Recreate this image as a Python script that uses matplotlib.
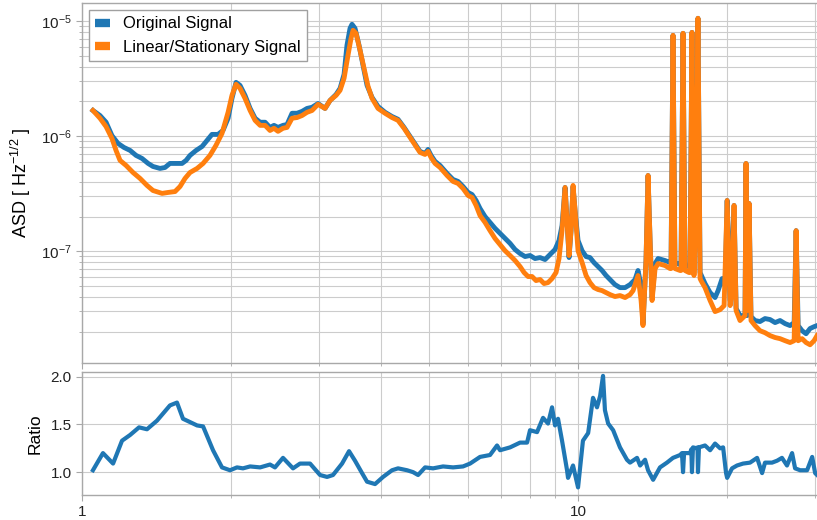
import numpy as np
import matplotlib.pyplot as plt
from matplotlib import ticker

plt.rcParams['font.family'] = ['Liberation Sans', 'DejaVu Sans']
plt.rcParams['mathtext.fontset'] = 'custom'
plt.rcParams['mathtext.rm'] = 'Liberation Sans'
plt.rcParams['mathtext.it'] = 'Liberation Sans:italic'

# ASD of the original strain signal
orig_freq = [1.052, 1.087, 1.118, 1.149, 1.182, 1.215, 1.250, 1.285, 1.321, 1.359,
             1.390, 1.436, 1.470, 1.504, 1.540, 1.591, 1.621, 1.651, 1.698, 1.746,
             1.787, 1.828, 1.880, 1.924, 1.970, 2.006, 2.044, 2.082, 2.131, 2.182,
             2.233, 2.286, 2.339, 2.393, 2.438, 2.484, 2.542, 2.590, 2.651, 2.713,
             2.777, 2.842, 2.909, 2.991, 3.090, 3.162, 3.252, 3.313, 3.375, 3.421,
             3.470, 3.502, 3.551, 3.618, 3.686, 3.755, 3.843, 3.951, 4.082, 4.217,
             4.336, 4.459, 4.585, 4.714, 4.802, 4.915, 4.984, 5.054, 5.149, 5.270,
             5.444, 5.597, 5.729, 5.863, 6.002, 6.114, 6.229, 6.345, 6.494, 6.646,
             6.803, 6.962, 7.126, 7.294, 7.465, 7.640, 7.820, 8.002, 8.190, 8.383,
             8.580, 8.781, 8.987, 9.155, 9.284, 9.415, 9.502, 9.591, 9.680, 9.771,
             9.862, 10.00, 10.19, 10.38, 10.57, 10.77, 10.97, 11.18, 11.39, 11.60,
             11.87, 12.15, 12.44, 12.73, 13.03, 13.21, 13.40, 13.52, 13.71, 13.84,
             13.97, 14.10, 14.30, 14.50, 14.98, 15.33, 15.40, 15.54, 15.68, 16.06,
             16.13, 16.28, 16.43, 16.74, 16.82, 16.97, 17.13, 17.29, 17.45, 17.62,
             18.03, 18.46, 18.89, 19.16, 19.52, 19.79, 19.98, 20.26, 20.63, 20.83,
             21.21, 21.71, 21.81, 21.91, 22.12, 22.32, 22.74, 23.27, 23.82, 24.38,
             24.96, 25.54, 26.15, 26.76, 27.27, 27.52, 27.78, 28.29, 28.82, 29.36,
             29.91, 30.33]
orig_asd = [1.67e-6, 1.51e-6, 1.32e-6, 1.01e-6, 8.64e-7, 7.97e-7, 7.51e-7, 6.80e-7, 6.40e-7, 5.79e-7,
            5.45e-7, 5.24e-7, 5.34e-7, 5.79e-7, 5.79e-7, 5.79e-7, 6.15e-7, 6.80e-7, 7.51e-7, 8.13e-7,
            9.18e-7, 1.035e-6, 1.035e-6, 1.12e-6, 1.43e-6, 2.13e-6, 2.93e-6, 2.76e-6, 2.26e-6, 1.74e-6,
            1.43e-6, 1.32e-6, 1.32e-6, 1.19e-6, 1.24e-6, 1.19e-6, 1.24e-6, 1.26e-6, 1.58e-6, 1.58e-6,
            1.64e-6, 1.74e-6, 1.78e-6, 1.92e-6, 1.74e-6, 2.04e-6, 2.30e-6, 2.60e-6, 3.44e-6, 6.15e-6,
            8.64e-6, 9.36e-6, 8.64e-6, 6.15e-6, 4.12e-6, 2.76e-6, 2.17e-6, 1.81e-6, 1.61e-6, 1.48e-6,
            1.40e-6, 1.19e-6, 9.94e-7, 8.30e-7, 7.36e-7, 7.07e-7, 7.66e-7, 6.80e-7, 6.03e-7, 5.56e-7,
            4.74e-7, 4.20e-7, 4.04e-7, 3.65e-7, 3.24e-7, 3.11e-7, 2.76e-7, 2.35e-7, 2.00e-7, 1.78e-7,
            1.58e-7, 1.43e-7, 1.29e-7, 1.17e-7, 1.035e-7, 9.55e-8, 8.99e-8, 9.18e-8, 8.64e-8, 8.81e-8,
            8.47e-8, 9.36e-8, 1.035e-7, 1.24e-7, 1.67e-7, 3.58e-7, 1.85e-7, 8.81e-8, 1.51e-7, 3.65e-7,
            2.26e-7, 1.24e-7, 1.01e-7, 8.99e-8, 8.81e-8, 7.97e-8, 7.36e-8, 6.80e-8, 6.15e-8, 5.68e-8,
            5.13e-8, 4.83e-8, 4.83e-8, 5.13e-8, 5.68e-8, 6.80e-8, 5.03e-8, 2.35e-8, 8.30e-8, 4.55e-7,
            1.24e-7, 3.96e-8, 7.81e-8, 8.64e-8, 8.30e-8, 7.97e-8, 7.97e-8, 7.51e-6, 7.97e-8, 7.66e-8,
            7.66e-8, 7.82e-6, 7.51e-8, 7.36e-8, 7.36e-8, 7.97e-6, 7.07e-8, 2.00e-7, 1.056e-5, 6.53e-8,
            5.24e-8, 4.37e-8, 3.96e-8, 4.55e-8, 5.79e-8, 5.03e-8, 2.76e-7, 3.73e-8, 2.50e-7, 3.18e-8,
            2.76e-8, 2.76e-8, 5.79e-7, 2.76e-8, 2.60e-7, 2.71e-8, 2.50e-8, 2.45e-8, 2.60e-8, 2.55e-8,
            2.40e-8, 2.50e-8, 2.35e-8, 2.26e-8, 2.40e-8, 1.51e-7, 2.26e-8, 2.04e-8, 1.92e-8, 2.13e-8,
            2.21e-8, 2.26e-8]

# ASD after removing the non-linear / non-stationary part
lin_freq = [1.052, 1.087, 1.118, 1.149, 1.171, 1.193, 1.227, 1.267, 1.309, 1.352,
            1.390, 1.450, 1.491, 1.540, 1.576, 1.613, 1.651, 1.706, 1.754, 1.811,
            1.862, 1.915, 1.970, 2.006, 2.044, 2.082, 2.131, 2.182, 2.233, 2.286,
            2.339, 2.393, 2.438, 2.484, 2.542, 2.590, 2.651, 2.713, 2.777, 2.842,
            2.909, 2.991, 3.090, 3.162, 3.252, 3.313, 3.375, 3.437, 3.486, 3.519,
            3.568, 3.635, 3.703, 3.772, 3.843, 3.951, 4.082, 4.217, 4.336, 4.459,
            4.585, 4.714, 4.802, 4.915, 4.984, 5.054, 5.149, 5.270, 5.444, 5.597,
            5.729, 5.863, 6.002, 6.114, 6.229, 6.345, 6.494, 6.646, 6.803, 6.962,
            7.126, 7.294, 7.465, 7.640, 7.784, 7.930, 8.077, 8.228, 8.383, 8.540,
            8.700, 8.863, 9.029, 9.155, 9.284, 9.415, 9.502, 9.591, 9.680, 9.771,
            9.862, 10.00, 10.19, 10.38, 10.57, 10.77, 10.97, 11.18, 11.39, 11.60,
            11.87, 12.15, 12.44, 12.73, 12.91, 13.21, 13.40, 13.52, 13.71, 13.84,
            13.97, 14.10, 14.30, 14.50, 14.98, 15.33, 15.40, 15.54, 15.68, 16.06,
            16.13, 16.28, 16.43, 16.74, 16.82, 16.97, 17.13, 17.29, 17.45, 17.62,
            17.70, 18.03, 18.46, 18.89, 19.34, 19.70, 19.98, 20.26, 20.44, 20.63,
            20.83, 21.21, 21.71, 21.81, 21.91, 22.12, 22.32, 22.74, 23.27, 23.82,
            24.38, 24.96, 25.54, 26.15, 26.76, 27.27, 27.52, 27.78, 28.29, 28.82,
            29.36, 29.91, 30.33]
lin_asd = [1.67e-6, 1.43e-6, 1.21e-6, 9.55e-7, 7.51e-7, 6.15e-7, 5.56e-7, 4.83e-7, 4.29e-7, 3.73e-7,
           3.37e-7, 3.18e-7, 3.24e-7, 3.30e-7, 3.65e-7, 4.29e-7, 4.83e-7, 5.24e-7, 5.79e-7, 6.80e-7,
           8.30e-7, 1.055e-6, 1.61e-6, 2.26e-6, 2.82e-6, 2.60e-6, 2.13e-6, 1.67e-6, 1.37e-6, 1.24e-6,
           1.24e-6, 1.12e-6, 1.17e-6, 1.10e-6, 1.17e-6, 1.19e-6, 1.43e-6, 1.45e-6, 1.51e-6, 1.61e-6,
           1.67e-6, 1.89e-6, 1.74e-6, 2.04e-6, 2.26e-6, 2.50e-6, 3.18e-6, 5.03e-6, 7.07e-6, 8.30e-6,
           7.82e-6, 5.56e-6, 3.88e-6, 2.71e-6, 2.13e-6, 1.74e-6, 1.58e-6, 1.45e-6, 1.37e-6, 1.17e-6,
           9.74e-7, 8.13e-7, 7.22e-7, 6.93e-7, 7.36e-7, 6.53e-7, 5.79e-7, 5.34e-7, 4.55e-7, 4.04e-7,
           3.88e-7, 3.51e-7, 3.05e-7, 2.93e-7, 2.50e-7, 2.04e-7, 1.78e-7, 1.51e-7, 1.29e-7, 1.14e-7,
           1.01e-7, 9.18e-8, 8.30e-8, 7.36e-8, 6.53e-8, 6.03e-8, 6.03e-8, 5.56e-8, 5.68e-8, 5.24e-8,
           5.34e-8, 5.79e-8, 6.53e-8, 8.64e-8, 1.51e-7, 3.58e-7, 1.85e-7, 9.18e-8, 1.51e-7, 3.73e-7,
           2.26e-7, 1.01e-7, 7.97e-8, 6.15e-8, 5.34e-8, 4.83e-8, 4.65e-8, 4.55e-8, 4.37e-8, 4.20e-8,
           4.04e-8, 4.12e-8, 3.96e-8, 4.20e-8, 4.55e-8, 6.15e-8, 3.73e-8, 2.26e-8, 8.30e-8, 4.55e-7,
           1.24e-7, 3.73e-8, 7.07e-8, 7.81e-8, 7.51e-8, 7.07e-8, 7.07e-8, 7.51e-6, 7.07e-8, 6.80e-8,
           6.80e-8, 7.82e-6, 6.80e-8, 6.53e-8, 6.53e-8, 7.97e-6, 6.15e-8, 2.00e-7, 1.056e-5, 5.79e-8,
           5.56e-8, 4.83e-8, 3.73e-8, 2.99e-8, 3.11e-8, 3.37e-8, 2.76e-7, 3.37e-8, 4.55e-8, 2.50e-7,
           3.05e-8, 2.50e-8, 2.76e-8, 5.79e-7, 3.05e-8, 2.60e-7, 2.50e-8, 2.26e-8, 2.04e-8, 1.96e-8,
           1.85e-8, 1.78e-8, 1.74e-8, 1.67e-8, 1.61e-8, 1.67e-8, 1.51e-7, 1.67e-8, 1.74e-8, 1.61e-8,
           1.54e-8, 1.67e-8, 1.85e-8]

# original / linear ratio
ratio_freq = [1.052, 1.102, 1.155, 1.204, 1.250, 1.303, 1.352, 1.416, 1.504, 1.554,
              1.598, 1.706, 1.754, 1.837, 1.915, 1.988, 2.053, 2.111, 2.182, 2.286,
              2.393, 2.449, 2.542, 2.663, 2.751, 2.882, 3.019, 3.119, 3.206, 3.344,
              3.454, 3.551, 3.669, 3.755, 3.897, 4.045, 4.217, 4.336, 4.522, 4.650,
              4.759, 4.916, 5.102, 5.344, 5.598, 5.863, 6.058, 6.345, 6.646, 6.866,
              6.962, 7.294, 7.640, 7.893, 8.002, 8.267, 8.500, 8.700, 8.863, 8.987,
              9.113, 9.284, 9.502, 9.546, 9.770, 10.00, 10.23, 10.48, 10.72, 10.92,
              11.08, 11.23, 11.33, 11.50, 11.77, 12.15, 12.55, 12.73, 13.15, 13.34,
              13.65, 13.84, 14.17, 14.63, 15.11, 15.54, 16.06, 16.20, 16.28, 16.36,
              16.82, 16.92, 16.97, 17.05, 17.37, 17.41, 17.45, 17.53, 18.03, 18.46,
              18.89, 19.34, 19.61, 19.88, 19.98, 20.44, 20.92, 21.51, 22.22, 22.96,
              23.50, 23.82, 24.61, 25.19, 25.77, 26.38, 27.01, 27.39, 28.04, 28.96,
              29.65, 30.06, 30.34]
ratio = [1.02, 1.20, 1.09, 1.33, 1.39, 1.47, 1.45, 1.54, 1.70, 1.73,
         1.56, 1.49, 1.48, 1.23, 1.05, 1.02, 1.05, 1.04, 1.06, 1.05,
         1.08, 1.05, 1.15, 1.04, 1.09, 1.09, 0.97, 0.95, 0.97, 1.09,
         1.22, 1.12, 0.99, 0.90, 0.875, 0.95, 1.02, 1.04, 1.02, 1.00,
         0.97, 1.05, 1.04, 1.06, 1.05, 1.06, 1.09, 1.16, 1.18, 1.28,
         1.23, 1.26, 1.31, 1.31, 1.44, 1.42, 1.57, 1.51, 1.68, 1.49,
         1.56, 1.33, 1.02, 0.94, 1.07, 0.84, 1.33, 1.41, 1.78, 1.68,
         1.80, 2.01, 1.65, 1.51, 1.44, 1.26, 1.13, 1.10, 1.15, 1.07,
         1.13, 1.02, 0.92, 1.05, 1.10, 1.15, 1.18, 1.20, 1.00, 1.20,
         1.20, 1.24, 1.00, 1.26, 1.25, 1.26, 1.00, 1.26, 1.28, 1.23,
         1.30, 1.25, 1.26, 0.99, 0.94, 1.04, 1.07, 1.09, 1.10, 1.15,
         0.99, 1.10, 1.10, 1.12, 1.15, 1.07, 1.20, 1.04, 1.02, 1.02,
         1.16, 0.99, 0.97]

grid_kw = dict(color='#cccccc', linewidth=0.8)
spine_col = '#a8a8a8'

fig = plt.figure(figsize=(8.17, 5.2), dpi=100)
ax = fig.add_axes([0.1004, 0.302, 0.9033, 0.692])
axr = fig.add_axes([0.1004, 0.048, 0.9033, 0.2365], sharex=ax)

ax.plot(orig_freq, orig_asd, color='#1f77b4', lw=3.5, label='Original Signal')
ax.plot(lin_freq, lin_asd, color='#ff7f0e', lw=3.5, label='Linear/Stationary Signal')
axr.plot(ratio_freq, ratio, color='#1f77b4', lw=3)

ax.set_xscale('log')
ax.set_yscale('log')
ax.set_xlim(1, 30.75)
ax.set_ylim(1.07e-8, 1.43e-5)
axr.set_ylim(0.76, 2.05)
axr.set_yticks([1.0, 1.5, 2.0])
axr.yaxis.set_major_formatter(ticker.FormatStrFormatter('%.1f'))

axr.xaxis.set_major_formatter(ticker.FuncFormatter(lambda v, p: f'{v:g}'))
axr.xaxis.set_minor_formatter(ticker.NullFormatter())
ax.tick_params(labelbottom=False)

for a in (ax, axr):
    a.grid(True, which='both', **grid_kw)
    a.set_axisbelow(True)
    for s in a.spines.values():
        s.set_color(spine_col)
        s.set_linewidth(1.0)
    a.tick_params(which='both', colors=spine_col, labelcolor='#222222', labelsize=11)
    a.tick_params(which='major', length=4)
    a.tick_params(which='minor', length=2.5)
axr.grid(False, which='minor', axis='y')

ax.set_ylabel(r'ASD [ Hz$^{-1/2}$ ]', fontsize=13)
axr.set_ylabel('Ratio', fontsize=12.5)
ax.yaxis.set_label_coords(-0.066, 0.5)
axr.yaxis.set_label_coords(-0.053, 0.5)

leg = ax.legend(loc='upper left', fontsize=12, handlelength=0.85, handletextpad=0.8,
                borderaxespad=0.4, fancybox=False, framealpha=1, edgecolor='#a0a0a0')
for h in leg.get_lines():
    h.set_linewidth(6)
    h.set_solid_capstyle('butt')

fig.savefig('out.png', dpi=100)
